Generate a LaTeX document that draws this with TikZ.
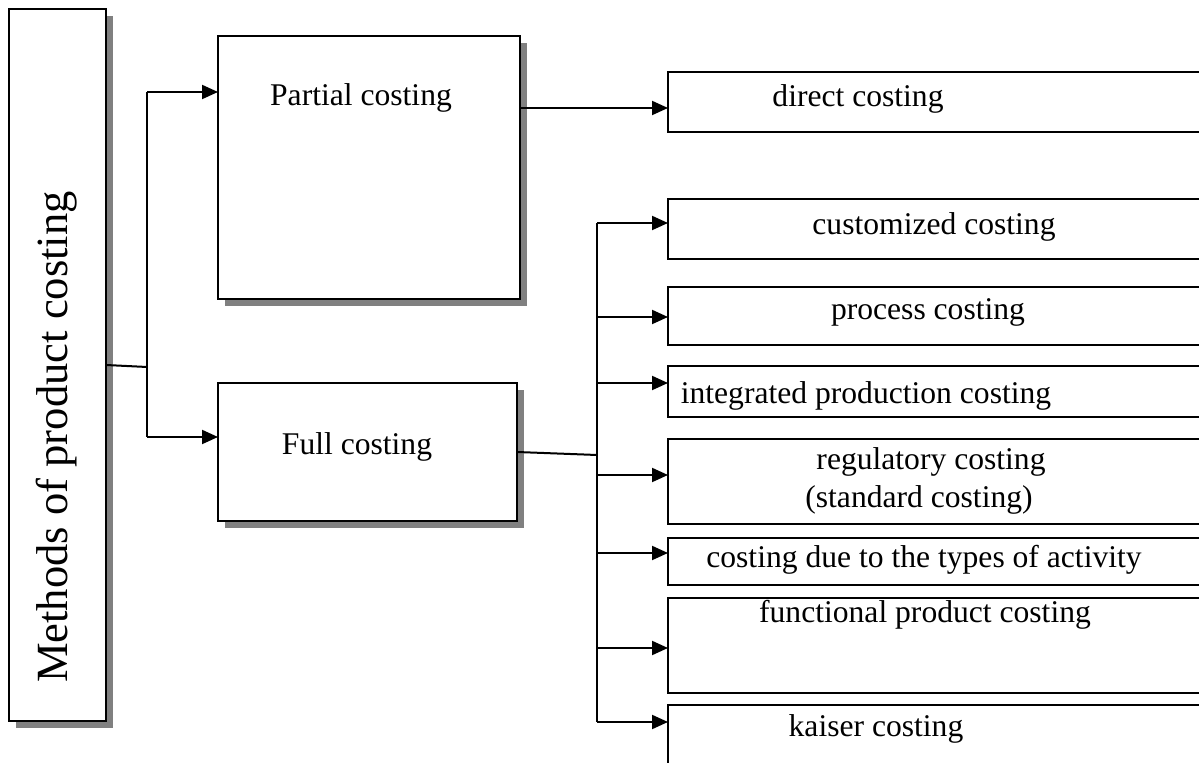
\documentclass[tikz,border=0pt]{standalone}
\usepackage{fontspec}
\setmainfont{Liberation Serif}
\usetikzlibrary{arrows.meta, shadows}

\begin{document}
\begin{tikzpicture}[x=.5pt, y=-.5pt,
    shbox/.style={draw, line width=1.3pt, fill=white, inner sep=0pt, outer sep=0pt,
        drop shadow={shadow xshift=3.5pt, shadow yshift=-3.5pt, fill=black!50, opacity=1}},
    rbox/.style={draw, line width=1pt, inner sep=0pt, outer sep=0pt, minimum width=281pt},
    txt/.style={anchor=base, inner sep=0pt, font=\fontsize{15.8}{19}\selectfont},
    arr/.style={line width=1pt, -{Triangle[length=8pt, width=7pt]}},
    ln/.style={line width=1pt}]
    \clip (0, 0) rectangle (1199, 763);

    % left side
    \node [shbox, minimum width=48.5pt, minimum height=356pt] (meth) at (57.5, 365) {};
    \node [rotate=90, inner sep=0pt, font=\fontsize{22.3}{26}\selectfont] (methtxt) at (57, 437) {Methods of product costing};
    \node [shbox, minimum width=151pt, minimum height=131.5pt] (partial) at (369, 167.5) {};
    \node [txt] (partialtxt) at (361, 106) {Partial costing};
    \node [shbox, minimum width=149.5pt, minimum height=69pt] (full) at (367.5, 452) {};
    \node [txt] (fulltxt) at (357, 455) {Full costing};

    % right side
    \node [rbox, minimum height=30pt] (direct) at (949, 102) {};
    \node [rbox, minimum height=30pt] (custom) at (949, 229) {};
    \node [rbox, minimum height=29pt] (process) at (949, 316) {};
    \node [rbox, minimum height=25.5pt] (integ) at (949, 391.5) {};
    \node [rbox, minimum height=42.5pt] (regul) at (949, 481.5) {};
    \node [rbox, minimum height=23.5pt] (activ) at (949, 561.5) {};
    \node [rbox, minimum height=47.5pt] (funct) at (949, 645.5) {};
    \node [rbox, minimum height=47.5pt] (kaiser) at (949, 752.5) {};

    \node [txt] (directtxt) at (858, 107) {direct costing};
    \node [txt] (customtxt) at (934, 235) {customized costing};
    \node [txt] (processtxt) at (928, 320) {process costing};
    \node [txt] (integtxt) at (866, 404) {integrated production costing};
    \node [txt] (regultxt) at (931, 470) {regulatory costing};
    \node [txt] (standtxt) at (919, 508) {(standard costing)};
    \node [txt] (activtxt) at (924, 568) {costing due to the types of activity};
    \node [txt] (functtxt) at (925, 623) {functional product costing};
    \node [txt] (kaisertxt) at (876, 737) {kaiser costing};

    % connectors
    \coordinate (j1) at (147, 367);
    \coordinate (j1top) at (147, 92);
    \coordinate (j1bot) at (147, 437);
    \draw [ln] (meth.east) -- (j1);
    \draw [ln] (j1top) -- (j1bot);
    \draw [arr] (j1top) -- (j1top -| partial.west);
    \draw [arr] (j1bot) -- (j1bot -| full.west);

    \coordinate (pd) at (partial.east |- 0, 108);
    \draw [arr] (pd) -- (pd -| direct.west);

    \coordinate (j2) at (597, 455);
    \coordinate (ttop) at (597, 223);
    \coordinate (tbot) at (597, 722);
    \draw [ln] (full.east) -- (j2);
    \draw [ln] (ttop) -- (tbot);
    \foreach \n/\y in {custom/223, process/317, integ/383, regul/475, activ/553, funct/648, kaiser/722}
        \draw [arr] (597, \y) -- (\n.west |- 0, \y);
\end{tikzpicture}
\end{document}
